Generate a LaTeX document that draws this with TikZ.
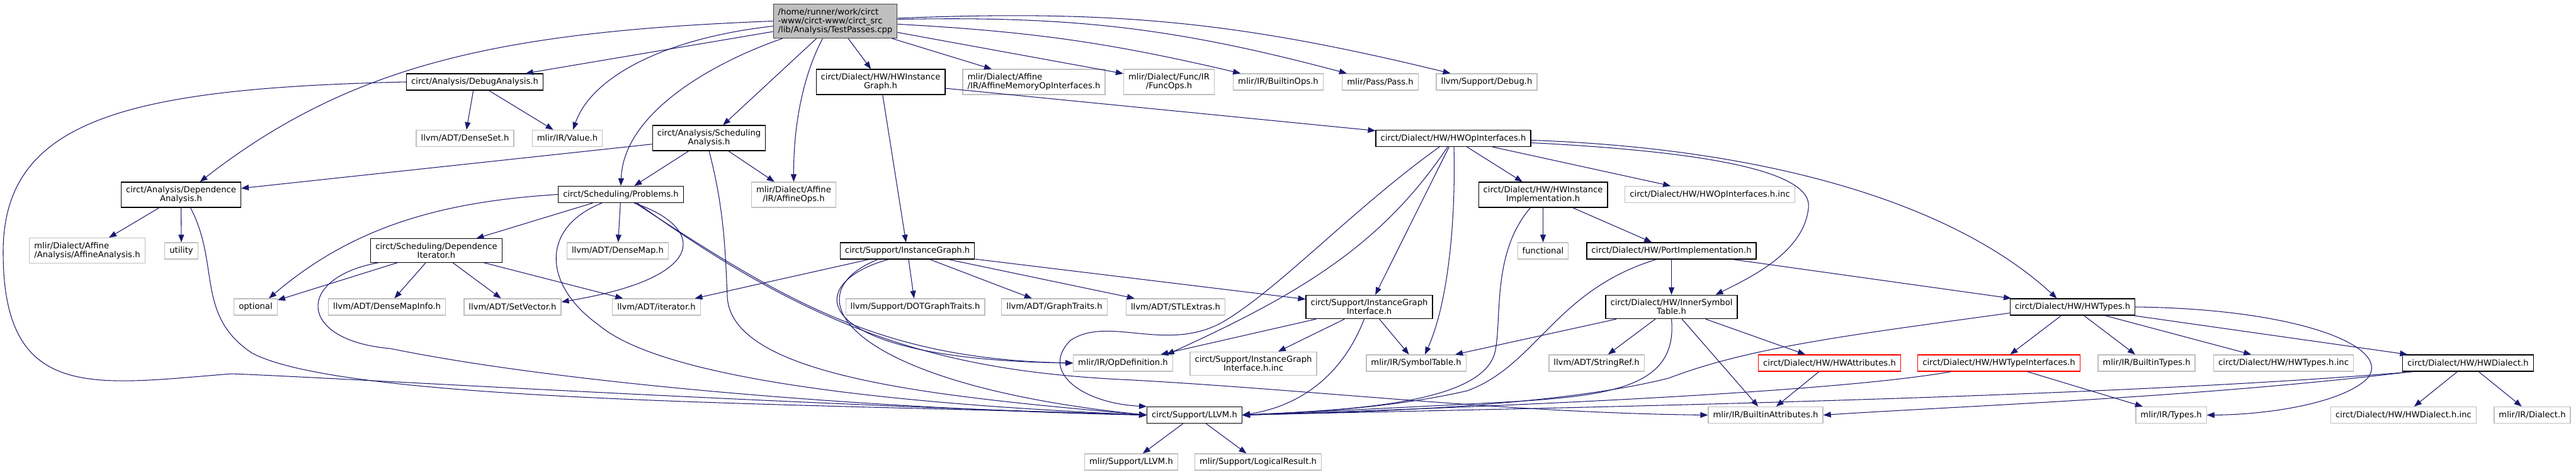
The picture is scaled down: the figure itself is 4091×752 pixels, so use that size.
\documentclass[tikz,border=0pt]{standalone}
\usepackage{fontspec}
\setmainfont{DejaVu Sans}
\usepackage{tikz}
\usetikzlibrary{arrows.meta, calc}
\definecolor{edgeblue}{HTML}{191970}
\definecolor{boxgray}{HTML}{BFBFBF}
\definecolor{rootgray}{HTML}{BFBFBF}
\definecolor{rootline}{HTML}{404040}
\definecolor{missing}{HTML}{FF0000}
\tikzset{
    incgraph/.style={font=\fontsize{7.5}{8}\selectfont},
    incfile/.style={draw, fill=white, align=center, line width=0.7pt,
        inner xsep=1.5mm, inner ysep=1.3mm, minimum height=5.2mm},
    documented/.style={incfile, draw=black},
    external/.style={incfile, draw=boxgray},
    undocumented/.style={incfile, draw=missing},
    current/.style={incfile, draw=rootline, fill=rootgray, align=left},
    incarrow/.style={-{Triangle[length=2.4mm, width=1.8mm]}, draw=edgeblue, line width=0.6pt},
}
\begin{document}
\begin{tikzpicture}[incgraph, x=0.2mm, y=-0.2mm]
    \useasboundingbox (0,0) rectangle (4091,752);

    \node[current] (root) at (1326.5,33.5) {/home/runner/work/circt\\-www/circt-www/circt\_src\\/lib/Analysis/TestPasses.cpp};

    \node[documented] (debugana) at (754,130) {circt/Analysis/DebugAnalysis.h};
    \node[documented] (hwinstgraph) at (1398.5,130) {circt/Dialect/HW/HWInstance\\Graph.h};
    \node[external, align=left] (affmemif) at (1642,130) {mlir/Dialect/Affine\\/IR/AffineMemoryOpInterfaces.h};
    \node[external] (funcops) at (1856.5,130) {mlir/Dialect/Func/IR\\/FuncOps.h};
    \node[external] (builtinops) at (2030,130) {mlir/IR/BuiltinOps.h};
    \node[external] (passh) at (2192,130) {mlir/Pass/Pass.h};
    \node[external] (debugh) at (2361,130) {llvm/Support/Debug.h};

    \node[external] (denseset) at (738.5,219.5) {llvm/ADT/DenseSet.h};
    \node[external] (valueh) at (901,219.5) {mlir/IR/Value.h};
    \node[documented] (schedana) at (1126,219) {circt/Analysis/Scheduling\\Analysis.h};
    \node[documented] (hwopif) at (2308,219.5) {circt/Dialect/HW/HWOpInterfaces.h};

    \node[documented] (depana) at (287.5,309) {circt/Analysis/Dependence\\Analysis.h};
    \node[documented] (problems) at (986,308.5) {circt/Scheduling/Problems.h};
    \node[external] (affineops) at (1260.5,309) {mlir/Dialect/Affine\\/IR/AffineOps.h};
    \node[documented] (hwinstimpl) at (2450.5,309) {circt/Dialect/HW/HWInstance\\Implementation.h};
    \node[external] (hwopifinc) at (2715.5,308.5) {circt/Dialect/HW/HWOpInterfaces.h.inc};

    \node[external, align=left] (affana) at (138.5,397.5) {mlir/Dialect/Affine\\/Analysis/AffineAnalysis.h};
    \node[external] (utility) at (288,398) {utility};
    \node[documented] (depiter) at (693,397.5) {circt/Scheduling/Dependence\\Iterator.h};
    \node[external] (densemap) at (981,398) {llvm/ADT/DenseMap.h};
    \node[documented] (instgraph) at (1441,398) {circt/Support/InstanceGraph.h};
    \node[external] (functional) at (2450.5,398) {functional};
    \node[documented] (portimpl) at (2654.5,398) {circt/Dialect/HW/PortImplementation.h};

    \node[external] (optional) at (406,487) {optional};
    \node[external] (densemapinfo) at (614.5,487) {llvm/ADT/DenseMapInfo.h};
    \node[external] (setvector) at (814,487) {llvm/ADT/SetVector.h};
    \node[external] (iterator) at (1042.5,487) {llvm/ADT/iterator.h};
    \node[external] (dotgraph) at (1453.5,487) {llvm/Support/DOTGraphTraits.h};
    \node[external] (graphtraits) at (1674.5,487) {llvm/ADT/GraphTraits.h};
    \node[external] (stlextras) at (1867,487) {llvm/ADT/STLExtras.h};
    \node[documented] (igif) at (2174.5,487) {circt/Support/InstanceGraph\\Interface.h};
    \node[documented] (innersym) at (2654.5,487) {circt/Dialect/HW/InnerSymbol\\Table.h};
    \node[documented] (hwtypes) at (3291.5,487) {circt/Dialect/HW/HWTypes.h};

    \node[external] (opdef) at (1783.5,576) {mlir/IR/OpDefinition.h};
    \node[external] (igifinc) at (1990.5,577) {circt/Support/InstanceGraph\\Interface.h.inc};
    \node[external] (symtab) at (2249,576) {mlir/IR/SymbolTable.h};
    \node[external] (stringref) at (2535.5,576) {llvm/ADT/StringRef.h};
    \node[undocumented] (hwattr) at (2905.5,576) {circt/Dialect/HW/HWAttributes.h};
    \node[undocumented] (hwtypeif) at (3174.5,576) {circt/Dialect/HW/HWTypeInterfaces.h};
    \node[external] (builtintypes) at (3409,576) {mlir/IR/BuiltinTypes.h};
    \node[external] (hwtypesinc) at (3626.5,576) {circt/Dialect/HW/HWTypes.h.inc};
    \node[documented] (hwdialect) at (3919.5,576) {circt/Dialect/HW/HWDialect.h};

    \node[documented] (llvmh) at (1897,658.5) {circt/Support/LLVM.h};
    \node[external] (builtinattr) at (2804,658.5) {mlir/IR/BuiltinAttributes.h};
    \node[external] (typesh) at (3448,658.5) {mlir/IR/Types.h};
    \node[external] (hwdialectinc) at (3817,658.5) {circt/Dialect/HW/HWDialect.h.inc};
    \node[external] (dialecth) at (4021.5,658.5) {mlir/IR/Dialect.h};

    \node[external] (mlirllvm) at (1796.5,733) {mlir/Support/LLVM.h};
    \node[external] (logicalres) at (1998,733) {mlir/Support/LogicalResult.h};

    \draw[incarrow] (root) -- (debugana);
    \draw[incarrow] (root.west) .. controls (800,50) and (560,100) .. ($(depana.north)+(30,0)$);
    \draw[incarrow] ($(root.west)+(0,8)$) .. controls (1060,60) and (940,120) .. ($(valueh.north)+(9,0)$);
    \draw[incarrow] (root) -- (schedana);
    \draw[incarrow] ($(root.south west)+(15,0)$) .. controls (1130,100) and (990,180) .. (problems.north);
    \draw[incarrow] ($(root.south)+(-20,0)$) .. controls (1275,120) and (1260,200) .. (affineops.north);
    \draw[incarrow] (root) -- (hwinstgraph);
    \draw[incarrow] (root) -- (affmemif);
    \draw[incarrow] (root) -- (funcops);
    \draw[incarrow] (root) to[bend left=5] (builtinops);
    \draw[incarrow] (root) to[bend left=8] (passh);
    \draw[incarrow] (root) to[bend left=8] (debugh);

    \draw[incarrow] (debugana) -- (denseset);
    \draw[incarrow] (debugana) -- (valueh);
    \draw[incarrow] (debugana.west) .. controls (200,140) and (5,190) .. (5,400)
        .. controls (5,640) and (150,610) .. (368,593)
        .. controls (550,600) and (1200,640) .. (llvmh.west);

    \draw[incarrow] (depana) -- (affana);
    \draw[incarrow] (depana) -- (utility);
    \draw[incarrow] ($(depana.south)+(15,0)$) .. controls (350,420) and (310,500) .. (400,560)
        .. controls (550,640) and (1300,640) .. (llvmh.west);

    \draw[incarrow] (schedana) -- (depana);
    \draw[incarrow] (schedana) -- (problems);
    \draw[incarrow] (schedana) -- (affineops);
    \draw[incarrow] (schedana.south) .. controls (1150,330) and (1152,400) .. (1155,470)
        .. controls (1160,600) and (1500,630) .. (llvmh.west);

    \draw[incarrow] (problems) -- (depiter);
    \draw[incarrow] (problems) -- (densemap);
    \draw[incarrow] (problems.west) .. controls (700,320) and (560,360) .. ($(optional.north)+(21,0)$);
    \draw[incarrow] ($(problems.south)+(-30,0)$) .. controls (860,360) and (860,450) .. (950,515)
        .. controls (1050,600) and (1400,640) .. (llvmh.west);
    \draw[incarrow] ($(problems.south)+(21,0)$) .. controls (1120,360) and (1130,440) .. ($(setvector.east)+(0,-8)$);
    \draw[incarrow] ($(problems.south)+(23,0)$) .. controls (1250,480) and (1400,570) .. (opdef.west);
    \draw[incarrow] ($(problems.south)+(26,0)$) .. controls (1300,530) and (1500,590) .. (1800,603)
        .. controls (2100,620) and (2400,655) .. (builtinattr.west);

    \draw[incarrow] (depiter) -- (optional);
    \draw[incarrow] (depiter) -- (densemapinfo);
    \draw[incarrow] (depiter) -- (setvector);
    \draw[incarrow] (depiter) -- (iterator);
    \draw[incarrow] ($(depiter.south west)+(13,0)$) .. controls (470,440) and (470,540) .. (620,553)
        .. controls (900,610) and (1400,650) .. (llvmh.west);

    \draw[incarrow] (hwinstgraph) -- (instgraph);
    \draw[incarrow] (hwinstgraph) -- (hwopif);

    \draw[incarrow] (instgraph) -- (iterator);
    \draw[incarrow] (instgraph) -- (dotgraph);
    \draw[incarrow] (instgraph) -- (graphtraits);
    \draw[incarrow] (instgraph) -- (stlextras);
    \draw[incarrow] (instgraph) -- (igif);
    \draw[incarrow] ($(instgraph.south)+(-47,0)$) .. controls (1250,470) and (1350,610) .. (llvmh.west);
    \draw[incarrow] ($(instgraph.south)+(-30,0)$) .. controls (1270,450) and (1280,570) .. (opdef.west);

    \draw[incarrow] (hwopif) -- (hwinstimpl);
    \draw[incarrow] (hwopif) -- (hwopifinc);
    \draw[incarrow] (hwopif) -- (igif);
    \draw[incarrow] ($(hwopif.south)+(1,0)$) .. controls (2312,350) and (2300,480) .. ($(symtab.north)+(14,0)$);
    \draw[incarrow] ($(hwopif.south)+(-9,0)$) .. controls (2200,380) and (2080,460) .. ($(opdef.north east)+(-10,0)$);
    \draw[incarrow] ($(hwopif.south)+(-22,0)$) .. controls (2150,330) and (2030,460) .. (1940,512)
        .. controls (1850,560) and (1760,500) .. (1700,540)
        .. controls (1650,590) and (1720,640) .. (llvmh.north west);
    \draw[incarrow] ($(hwopif.east)+(0,7)$) .. controls (2700,240) and (2880,270) .. (2872,330)
        .. controls (2865,400) and (2780,440) .. ($(innersym.north)+(70,0)$);
    \draw[incarrow] ($(hwopif.east)+(0,3)$) .. controls (2800,235) and (3100,320) .. ($(hwtypes.north)+(-25,0)$);

    \draw[incarrow] (hwinstimpl) -- (functional);
    \draw[incarrow] (hwinstimpl) -- (portimpl);
    \draw[incarrow] ($(hwinstimpl.south)+(-20,0)$) .. controls (2370,400) and (2385,500) .. (2375,555)
        .. controls (2360,640) and (2150,650) .. (llvmh.east);

    \draw[incarrow] (portimpl) -- (innersym);
    \draw[incarrow] (portimpl) -- (hwtypes);
    \draw[incarrow] ($(portimpl.south)+(-24,0)$) .. controls (2470,460) and (2440,580) .. (2330,620)
        .. controls (2200,650) and (2050,655) .. (llvmh.east);

    \draw[incarrow] (innersym) -- (symtab);
    \draw[incarrow] (innersym) -- (stringref);
    \draw[incarrow] (innersym) -- (builtinattr);
    \draw[incarrow] (innersym) -- (hwattr);
    \draw[incarrow] (innersym.south) .. controls (2665,620) and (2550,630) .. (2350,640)
        .. controls (2200,648) and (2050,655) .. (llvmh.east);

    \draw[incarrow] (igif) -- (opdef);
    \draw[incarrow] (igif) -- (igifinc);
    \draw[incarrow] (igif) -- (symtab);
    \draw[incarrow] ($(igif.south)+(-8,0)$) .. controls (2130,600) and (2060,645) .. (llvmh.east);

    \draw[incarrow] (hwattr) -- (builtinattr);

    \draw[incarrow] (hwtypes) -- (hwtypeif);
    \draw[incarrow] (hwtypes) -- (builtintypes);
    \draw[incarrow] (hwtypes) -- (hwtypesinc);
    \draw[incarrow] (hwtypes) -- (hwdialect);
    \draw[incarrow] (hwtypes.east) .. controls (3650,490) and (3800,550) .. (3760,600)
        .. controls (3720,640) and (3600,658) .. (typesh.east);
    \draw[incarrow] ($(hwtypes.south west)+(0,-4)$) .. controls (2950,530) and (2780,550) .. (2650,600)
        .. controls (2450,650) and (2100,655) .. (llvmh.east);

    \draw[incarrow] (hwtypeif) -- (typesh);
    \draw[incarrow] ($(hwtypeif.south)+(-76,0)$) .. controls (2900,625) and (2300,648) .. (llvmh.east);

    \draw[incarrow] (hwdialect) -- (hwdialectinc);
    \draw[incarrow] (hwdialect) -- (dialecth);
    \draw[incarrow] ($(hwdialect.south west)+(18,0)$) .. controls (3300,635) and (2300,650) .. (llvmh.east);
    \draw[incarrow] ($(hwdialect.south west)+(14,0)$) .. controls (3500,630) and (3100,645) .. (builtinattr.east);

    \draw[incarrow] (llvmh) -- (mlirllvm);
    \draw[incarrow] (llvmh) -- (logicalres);
\end{tikzpicture}
\end{document}
